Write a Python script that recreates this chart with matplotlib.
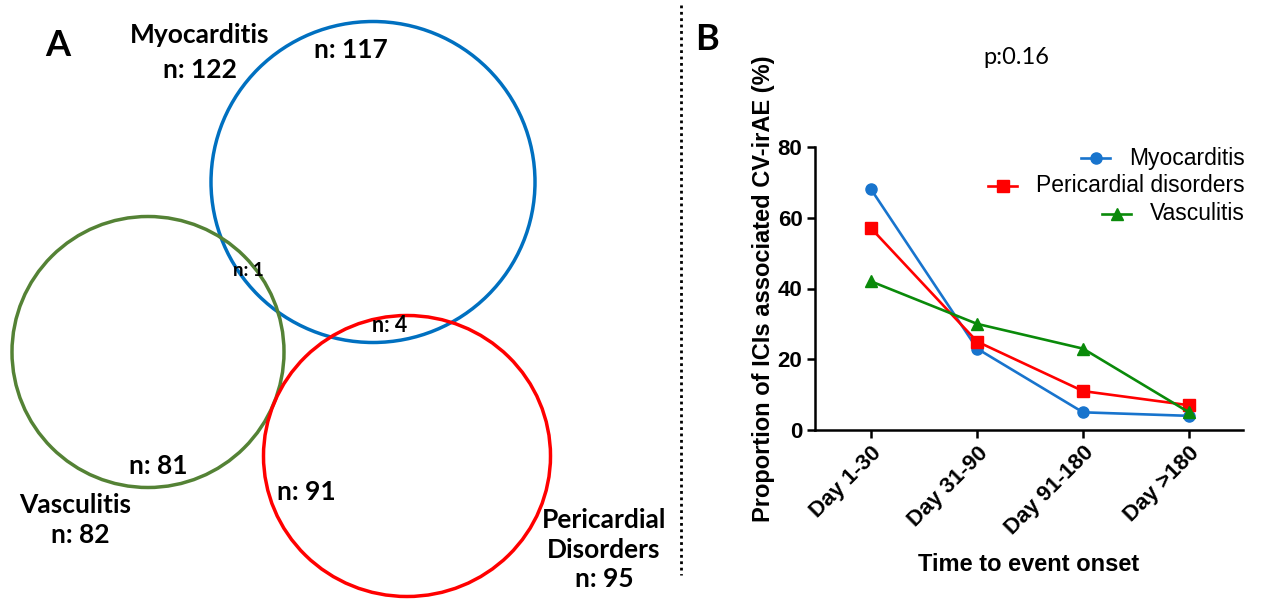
import matplotlib
matplotlib.use("Agg")
import matplotlib.pyplot as plt
import matplotlib.patches as patches
from matplotlib.lines import Line2D

# ---- data ----
time_bins = ["Day 1-30", "Day 31-90", "Day 91-180", "Day >180"]
myocarditis = [68, 23, 5, 4]
pericardial = [57, 25, 11, 7]
vasculitis = [42, 30, 23, 5]
series_names = ["Myocarditis", "Pericardial disorders", "Vasculitis"]
p_value = "p:0.16"

venn_names = ["Myocarditis", "Vasculitis", "Pericardial\nDisorders"]
venn_totals = [122, 82, 95]
venn_only = [117, 81, 91]
overlap_myo_vasc = 1
overlap_myo_peri = 4

plt.rcParams["font.family"] = ["Liberation Sans", "DejaVu Sans"]
venn_font = ["Lato", "DejaVu Sans"]

fig = plt.figure(figsize=(12.62, 6), dpi=100)

# ---- panel A: Venn drawn in pixel coordinates ----
axv = fig.add_axes([0, 0, 1, 1])
axv.set_xlim(0, 1262)
axv.set_ylim(600, 0)
axv.axis("off")
axv.set_zorder(2)

circles = [
    ((373, 182), 324, 321, "#0070C0"),
    ((148, 352), 272, 271, "#548235"),
    ((407, 456), 287, 281, "#FF0000"),
]
for (cx, cy), w, h, col in circles:
    axv.add_patch(patches.Ellipse((cx, cy), w, h, fill=False, edgecolor=col, lw=2.5))

txt = dict(family=venn_font, fontweight="bold", color="black", ha="center", va="center")
axv.text(58, 45, "A", fontsize=26, **txt)
axv.text(200, 35, venn_names[0], fontsize=19, **txt)
axv.text(200, 70, f"n: {venn_totals[0]}", fontsize=19, **txt)
axv.text(351, 50, f"n: {venn_only[0]}", fontsize=19, **txt)
axv.text(248, 270, f"n: {overlap_myo_vasc}", fontsize=13.5, **txt)
axv.text(390, 326, f"n: {overlap_myo_peri}", fontsize=15.5, **txt)
axv.text(158, 466, f"n: {venn_only[1]}", fontsize=19, **txt)
axv.text(75, 505, venn_names[1], fontsize=19, **txt)
axv.text(80, 535, f"n: {venn_totals[1]}", fontsize=19, **txt)
axv.text(306, 492, f"n: {venn_only[2]}", fontsize=19, **txt)
axv.text(604, 535, venn_names[2], fontsize=19, linespacing=1.25, **txt)
axv.text(604, 579, f"n: {venn_totals[2]}", fontsize=19, **txt)

# dotted separator
axv.plot([681, 681], [5, 575], color="black", lw=2, linestyle=(0, (1, 1.3)))

# ---- panel B: line chart ----
ax = fig.add_axes([815 / 1262, 1 - 430 / 600, (1243 - 815) / 1262, 283 / 600])
ax.patch.set_visible(False)
x = list(range(len(time_bins)))
styles = [
    (myocarditis, "#1874CD", "o", 8),
    (pericardial, "#FF0000", "s", 8),
    (vasculitis, "#0A8A0A", "^", 8.5),
]
for (vals, col, mk, ms), name in zip(styles, series_names):
    ax.plot(x, vals, color=col, marker=mk, markersize=ms, lw=1.9, label=name)

ax.set_xlim(-0.53, 3.51)
ax.set_ylim(0, 80)
ax.set_yticks([0, 20, 40, 60, 80])
ax.set_xticks(x)
ax.set_xticklabels(time_bins, rotation=45, ha="right", rotation_mode="anchor")
for s in ["top", "right"]:
    ax.spines[s].set_visible(False)
for s in ["left", "bottom"]:
    ax.spines[s].set_linewidth(1.8)
ax.tick_params(direction="out", length=6, width=1.8, labelsize=16, pad=3)
for lab in ax.get_xticklabels() + ax.get_yticklabels():
    lab.set_fontweight("bold")
ax.set_ylabel("Proportion of ICIs associated CV-irAE (%)", fontsize=17,
              fontweight="bold", labelpad=2)
ax.set_xlabel("Time to event onset", fontsize=17, fontweight="bold", labelpad=10)

fig.text(1016 / 1262, 1 - 57 / 600, p_value, fontsize=17, ha="center", va="center",
         family=venn_font)
fig.text(707 / 1262, 1 - 40 / 600, "B", fontsize=26, fontweight="bold",
         family=venn_font, ha="center", va="center")

# legend: right-aligned labels with handle just left of each label
fig.canvas.draw()
renderer = fig.canvas.get_renderer()
leg_right = 1245
leg_rows = [158, 186, 214]
for (vals, col, mk, ms), name, ry in zip(styles, series_names, leg_rows):
    t = axv.text(leg_right, ry, name, fontsize=16.5, ha="right", va="center")
    bb = t.get_window_extent(renderer)
    x_end = bb.x0 - 19
    axv.add_line(Line2D([x_end - 29, x_end], [ry, ry], color=col, lw=1.9))
    axv.plot([x_end - 14.5], [ry], marker=mk, color=col, markersize=ms)

fig.savefig("out.png", dpi=100)
